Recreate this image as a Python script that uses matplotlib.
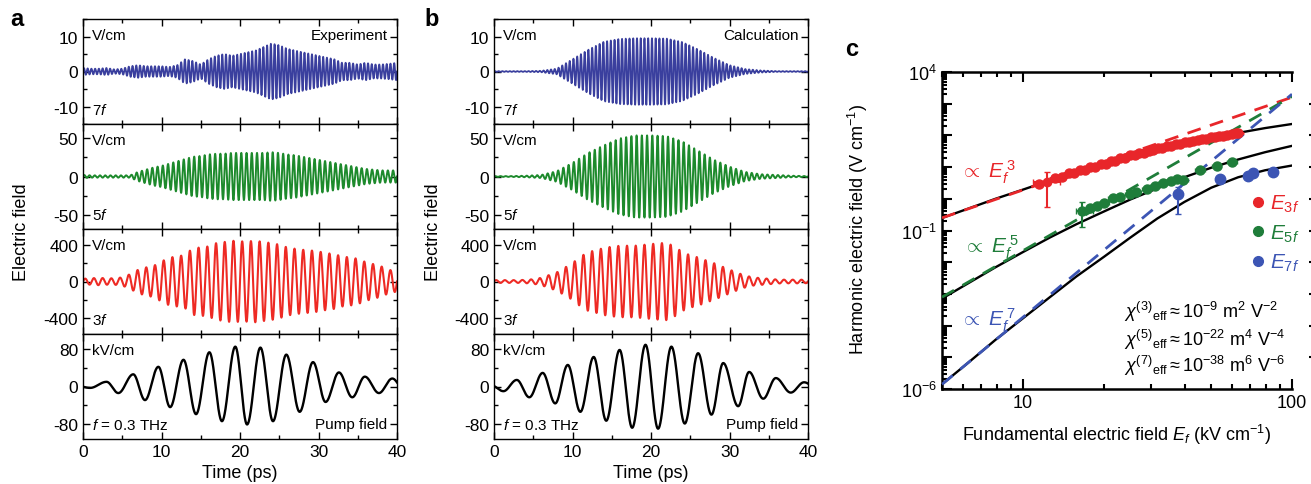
import numpy as np
import matplotlib.pyplot as plt
from matplotlib.lines import Line2D
from matplotlib.ticker import MultipleLocator, FixedLocator, NullFormatter, LogLocator

plt.rcParams['font.family'] = ['Liberation Sans', 'DejaVu Sans']
plt.rcParams['axes.unicode_minus'] = False
plt.rcParams['mathtext.fontset'] = 'custom'
plt.rcParams['mathtext.rm'] = 'Liberation Sans'
plt.rcParams['mathtext.it'] = 'Liberation Sans:italic'
plt.rcParams['mathtext.bf'] = 'Liberation Sans:bold'

# ---------------- data ----------------
# harmonic envelopes (amplitude vs time, ps), carrier frequencies (THz)
f_pump = 0.3
harm_freq = {"7f": 2.1, "5f": 1.5, "3f": 0.9}

env_t1 = np.arange(0, 41, 1)
env_t2 = np.arange(0, 41, 2)

exp7_env = [1.0, 0.8, 0.8, 1.0, 0.6, 0.8, 1.5, 1.8, 1.5, 1.5, 1.5, 1.3, 1.8, 3.5, 3.0, 2.0,
            3.5, 4.5, 5.0, 4.5, 5.0, 5.5, 6.0, 7.0, 8.0, 7.5, 6.5, 6.0, 5.5, 5.0, 4.5, 4.0,
            3.5, 2.5, 2.5, 2.0, 2.5, 2.0, 2.0, 2.2, 2.5]
exp5_env = [2, 1.5, 1.5, 1.5, 1.5, 1.5, 1.5, 6, 9, 12, 14, 17, 20, 23, 26, 27, 29, 30, 30,
            31, 31, 31, 31, 31, 32, 31, 29, 28, 26, 24, 22, 20, 18, 16, 14, 12, 10, 9, 8, 8, 8]
exp3_env = [30, 35, 40, 35, 35, 45, 80, 127, 153, 170, 218, 260, 272, 290, 363, 370, 382,
            418, 429, 443, 436, 436, 443, 429, 418, 400, 371, 356, 345, 338, 327, 309, 298,
            272, 262, 247, 211, 189, 164, 127, 109]

calc7_env = [0.1, 0.1, 0.1, 0.2, 0.8, 3.5, 6.2, 8.5, 9.3, 9.5, 9.5, 9.4, 8.4, 6.3, 3.9,
             1.8, 0.7, 0.3, 0.1, 0.1, 0.1]
calc5_env = [0.5, 0.5, 1.0, 2.0, 7, 18, 31, 41, 50, 54, 54, 53, 46, 34, 22, 13, 6, 3, 2, 1, 0.5]
calc3_env = [15, 15, 15, 15, 18, 25, 40, 70, 100, 150, 200, 270, 320, 340, 365, 378, 388,
             389, 389, 398, 407, 415, 420, 380, 320, 285, 262, 230, 200, 165, 130, 95, 65,
             45, 37, 30, 22, 20, 20, 20, 18]

# pump field extrema (time ps, field kV/cm)
pump_a_t = [-0.9, 0.9, 3.0, 4.5, 6.4, 7.9, 9.6, 11.1, 12.8, 14.4, 16.1, 17.7, 19.4, 20.9,
            22.6, 24.2, 25.9, 27.6, 29.3, 30.9, 32.6, 34.3, 35.9, 37.7, 39.4, 41.0]
pump_a_v = [2, -3, 10, -14, 26, -29, 42, -44, 57, -59, 73, -74, 85, -81, 83, -74, 68, -54,
            52, -33, 30, -23, 21, -14, 17, -10]
pump_b_t = [-0.4, 1.2, 2.9, 4.5, 6.2, 7.8, 9.4, 11.0, 12.7, 14.3, 16.0, 17.6, 19.3, 20.9,
            22.6, 24.3, 26.0, 27.7, 29.2, 31.1, 32.5, 34.3, 35.9, 37.8, 39.5, 41.2]
pump_b_v = [3, -10, 14, -23, 29, -36, 46, -54, 63, -73, 78, -88, 89, -90, 85, -79, 71, -60,
            50, -42, 31, -26, 18, -13, 9, -5]

# panel c: harmonic field vs fundamental field
fit_x = [5, 6.3, 7.9, 10, 12.6, 15.8, 20, 25.1, 31.6, 39.8, 50.1, 63.1, 79.4, 100]
fit3_y = [0.248, 0.50, 1.0, 1.95, 3.8, 7.2, 12.9, 22.9, 38.0, 60.3, 87.1, 120, 170, 229]
fit5_y = [7.1e-4, 2.24e-3, 6.9e-3, 0.0209, 0.0603, 0.158, 0.398, 0.955, 2.14, 4.79, 9.55,
          17.4, 29.5, 46.8]
fit7_y = [1.41e-6, 7.08e-6, 3.55e-5, 1.70e-4, 7.94e-4, 3.55e-3, 0.0148, 0.0603, 0.240,
          0.794, 2.24, 4.79, 7.94, 11.2]

power_x = [5, 100]
power3_y = [0.25, 1600]
power5_y = [7.9e-4, 1700]
power7_y = [1.4e-6, 2000]

red_x = [11.5, 13.2, 14.0, 14.8, 15.5, 16.3, 17.0, 17.8, 18.6, 19.5, 20.3, 21.2, 22.0, 23.0,
         24.0, 25.0, 26.0, 27.1, 28.2, 29.4, 30.5, 31.8, 33.0, 34.3, 35.6, 37.0, 38.5, 40.0,
         41.5, 43.0, 44.6, 46.3, 48.0, 49.8, 51.6, 53.5, 55.5, 57.5, 59.6, 61.7, 63.0]
red_y = [2.9, 4.6, 4.9, 6.3, 6.5, 8.2, 8.3, 10.2, 10.4, 12.9, 12.8, 15.8, 15.7, 19.2, 19.6,
         23.5, 23.8, 27.8, 28.3, 33.0, 33.5, 38.8, 39.5, 45.5, 46.2, 53.0, 55.0, 62.0, 62.5,
         69.0, 70.0, 77.0, 78.0, 86.0, 87.0, 95.0, 97.0, 106.0, 108.0, 117.0, 121.0]
red_rel_xerr = 0.05
red_rel_yerr = 0.25
red_bar_x, red_bar_y = 12.3, 3.4
red_bar_xerr = [[1.4], [1.4]]
red_bar_yerr = [[2.85], [3.7]]

green_x = [17.8, 18.8, 20.0, 21.6, 22.9, 25.0, 26.3, 28.8, 30.9, 33.1, 35.5, 37.3, 39.4,
           45.5, 52.5, 59.8]
green_y = [0.50, 0.59, 0.76, 1.07, 1.15, 1.41, 1.66, 2.04, 2.51, 3.16, 3.55, 4.17, 4.0,
           8.3, 11.2, 14.1]
green_rel_xerr = 0.04
green_rel_yerr = 0.18
green_bar_x, green_bar_y = 16.6, 0.42
green_bar_xerr = [[0.8], [1.6]]
green_bar_yerr = [[0.29], [0.37]]

blue_x = [54.0, 68.5, 71.6, 85.0]
blue_y = [4.2, 5.2, 6.3, 6.9]
blue_bar_x, blue_bar_y = 37.7, 1.41
blue_bar_yerr = [[1.08], [0.93]]

# ---------------- helpers ----------------
t = np.linspace(0, 40, 8001)


def harmonic(env_t, env_v, freq):
    return np.interp(t, env_t, env_v) * np.sin(2 * np.pi * freq * t)


def pump(ext_t, ext_v):
    ext_t = np.asarray(ext_t, float)
    ext_v = np.asarray(ext_v, float)
    i = np.clip(np.searchsorted(ext_t, t, side='right') - 1, 0, len(ext_t) - 2)
    ph = (t - ext_t[i]) / (ext_t[i + 1] - ext_t[i])
    return ext_v[i] + (ext_v[i + 1] - ext_v[i]) * (1 - np.cos(np.pi * ph)) / 2


W, H = 1311, 485
fig = plt.figure(figsize=(W / 100, H / 100), dpi=100)

c_blue = '#3a3f9e'
c_green = '#1d8a2c'
c_red = '#ee2a24'

rows = [
    ("7f", c_blue, 15, [-10, 0, 10], 5, "V/cm", 1.3),
    ("5f", c_green, 69, [-50, 0, 50], 25, "V/cm", 1.4),
    ("3f", c_red, 570, [-400, 0, 400], 200, "V/cm", 1.5),
    ("pump", 'black', 112, [-80, 0, 80], 40, "kV/cm", 1.7),
]

panels = [
    (83, "Experiment", [exp7_env, exp5_env, exp3_env], [env_t1, env_t1, env_t1], (pump_a_t, pump_a_v)),
    (494, "Calculation", [calc7_env, calc5_env, calc3_env], [env_t2, env_t2, env_t1], (pump_b_t, pump_b_v)),
]

for left_px, title, envs, env_ts, (pt, pv) in panels:
    for k, (name, col, lim, ticks, minor, unit, lw) in enumerate(rows):
        top_px = 20 + 105 * k
        ax = fig.add_axes([left_px / W, 1 - (top_px + 105) / H, 314 / W, 105 / H])
        if name == "pump":
            y = pump(pt, pv)
        else:
            y = harmonic(env_ts[k], envs[k], harm_freq[name])
        ax.plot(t, y, color=col, lw=lw)
        ax.set_xlim(0, 40)
        ax.set_ylim(-lim, lim)
        ax.set_yticks(ticks)
        ax.yaxis.set_minor_locator(MultipleLocator(minor))
        ax.xaxis.set_major_locator(MultipleLocator(10))
        ax.xaxis.set_minor_locator(MultipleLocator(5))
        ax.tick_params(which='both', direction='in', top=True, right=True, labelsize=12.5)
        ax.tick_params(which='major', length=5, width=1)
        ax.tick_params(which='minor', length=3, width=1)
        for s in ax.spines.values():
            s.set_linewidth(1.0)
        ax.text(0.03, 0.85, unit, transform=ax.transAxes, fontsize=11, va='center')
        if name == "pump":
            ax.text(0.03, 0.14, "$f$ = 0.3 THz", transform=ax.transAxes, fontsize=11, va='center')
            ax.text(0.97, 0.14, "Pump field", transform=ax.transAxes, fontsize=11,
                    va='center', ha='right')
            ax.set_xlabel("Time (ps)", fontsize=13, labelpad=4)
        else:
            ax.text(0.03, 0.14, "$" + name[0] + "f$", transform=ax.transAxes, fontsize=11,
                    va='center')
            ax.tick_params(labelbottom=False)
        if k == 0:
            ax.text(0.97, 0.85, title, transform=ax.transAxes, fontsize=11, va='center',
                    ha='right')
    fig.text((left_px - 61) / W, 1 - 232 / H, "Electric field", rotation=90, fontsize=13,
             ha='center', va='center')

fig.text(17 / W, 1 - 20 / H, "a", fontsize=17, fontweight='bold', ha='center', va='center')
fig.text(432 / W, 1 - 20 / H, "b", fontsize=17, fontweight='bold', ha='center', va='center')
fig.text(852 / W, 1 - 50 / H, "c", fontsize=17, fontweight='bold', ha='center', va='center')

# ---------------- panel c ----------------
pc_red = '#e8262a'
pc_green = '#1f7d3a'
pc_blue = '#3c55b4'

axc = fig.add_axes([942 / W, 1 - 390 / H, 350 / W, 317 / H])
axc.set_xscale('log')
axc.set_yscale('log')

for fy in (fit3_y, fit5_y, fit7_y):
    axc.plot(fit_x, fy, color='black', lw=1.7, zorder=2)

axc.plot(power_x, power3_y, color=pc_red, lw=2, dashes=(5, 3.5), zorder=3)
axc.plot(power_x, power5_y, color=pc_green, lw=2, dashes=(5, 3.5), zorder=3)
axc.plot(power_x, power7_y, color=pc_blue, lw=2, dashes=(5, 3.5), zorder=3)

rx = np.array(red_x)
ry = np.array(red_y)
axc.errorbar(rx, ry, xerr=rx * red_rel_xerr, yerr=ry * red_rel_yerr, fmt='o', ms=6.5,
             color=pc_red, elinewidth=2, capsize=0, zorder=4)
axc.errorbar([red_bar_x], [red_bar_y], xerr=red_bar_xerr, yerr=red_bar_yerr, fmt='o', ms=6,
             color=pc_red, elinewidth=1.5, capsize=2.5, zorder=4)

gx = np.array(green_x)
gy = np.array(green_y)
axc.errorbar(gx, gy, xerr=gx * green_rel_xerr, yerr=gy * green_rel_yerr, fmt='o', ms=6.5,
             color=pc_green, elinewidth=1.8, capsize=1.5, zorder=4)
axc.errorbar([green_bar_x], [green_bar_y], xerr=green_bar_xerr, yerr=green_bar_yerr, fmt='o',
             ms=6.5, color=pc_green, elinewidth=1.5, capsize=2.5, zorder=4)

axc.errorbar(blue_x, blue_y, fmt='o', ms=7.5, color=pc_blue, zorder=4)
axc.errorbar([blue_bar_x], [blue_bar_y], yerr=blue_bar_yerr, fmt='o', ms=7.5, color=pc_blue,
             elinewidth=1.5, capsize=2.5, zorder=4)

axc.set_xlim(5, 100)
axc.set_ylim(1e-6, 1e4)
axc.yaxis.set_major_locator(FixedLocator([10.0 ** e for e in range(-6, 5)]))
axc.set_yticklabels(['$10^{-6}$', '', '', '', '', '$10^{-1}$', '', '', '', '', '$10^{4}$'])
axc.yaxis.set_minor_locator(LogLocator(base=10, subs=np.arange(2, 10), numticks=30))
axc.yaxis.set_minor_formatter(NullFormatter())
axc.xaxis.set_major_locator(FixedLocator([10, 100]))
axc.set_xticklabels(['10', '100'])
axc.xaxis.set_minor_locator(LogLocator(base=10, subs=np.arange(2, 10), numticks=30))
axc.xaxis.set_minor_formatter(NullFormatter())
axc.tick_params(which='both', direction='in', top=True, right=False, labelsize=13, width=1.5)
axc.tick_params(which='major', length=7)
axc.tick_params(which='minor', length=3.5)
axc.spines['right'].set_visible(False)
for s in ('left', 'bottom', 'top'):
    axc.spines[s].set_linewidth(1.8)

# detached right-hand decade marks
axr = axc.twinx()
axr.set_yscale('log')
axr.set_ylim(1e-6, 1e4)
axr.yaxis.set_major_locator(FixedLocator([10.0 ** e for e in range(-5, 4)]))
axr.yaxis.set_minor_locator(FixedLocator([]))
for s in axr.spines.values():
    s.set_visible(False)
axr.spines['right'].set_position(('outward', 12))
axr.tick_params(axis='y', which='major', direction='out', length=4, width=1.5,
                labelright=False)

axc.text(0.05, 0.688, r"$\propto$ $E_f^{\,3}$", transform=axc.transAxes, color=pc_red,
         fontsize=15, va='center')
axc.text(0.06, 0.451, r"$\propto$ $E_f^{\,5}$", transform=axc.transAxes, color=pc_green,
         fontsize=15, va='center')
axc.text(0.05, 0.221, r"$\propto$ $E_f^{\,7}$", transform=axc.transAxes, color=pc_blue,
         fontsize=15, va='center')

chi_lines = [
    r"$\chi^{(3)}{}_{\mathrm{eff}}\approx 10^{-9}\ \mathrm{m}^{2}\ \mathrm{V}^{-2}$",
    r"$\chi^{(5)}{}_{\mathrm{eff}}\approx 10^{-22}\ \mathrm{m}^{4}\ \mathrm{V}^{-4}$",
    r"$\chi^{(7)}{}_{\mathrm{eff}}\approx 10^{-38}\ \mathrm{m}^{6}\ \mathrm{V}^{-6}$",
]
for yy, s in zip([0.246, 0.158, 0.075], chi_lines):
    axc.text(0.52, yy, s, transform=axc.transAxes, fontsize=13, va='center')

handles = [Line2D([], [], ls='none', marker='o', ms=7, color=c) for c in (pc_red, pc_green, pc_blue)]
axc.legend(handles, ['$E_{3f}$', '$E_{5f}$', '$E_{7f}$'], loc='upper right',
           bbox_to_anchor=(1.045, 0.645), frameon=False, fontsize=15, handlelength=0.6,
           handletextpad=0.3, labelspacing=0.4, labelcolor=[pc_red, pc_green, pc_blue],
           borderaxespad=0)

axc.set_xlabel("Fundamental electric field $E_f$ (kV cm$^{-1}$)", fontsize=13, labelpad=8)
fig.text(858 / W, 1 - 230 / H, "Harmonic electric field (V cm$^{-1}$)", rotation=90,
         fontsize=13, ha='center', va='center')

fig.savefig("out.png", dpi=100)
